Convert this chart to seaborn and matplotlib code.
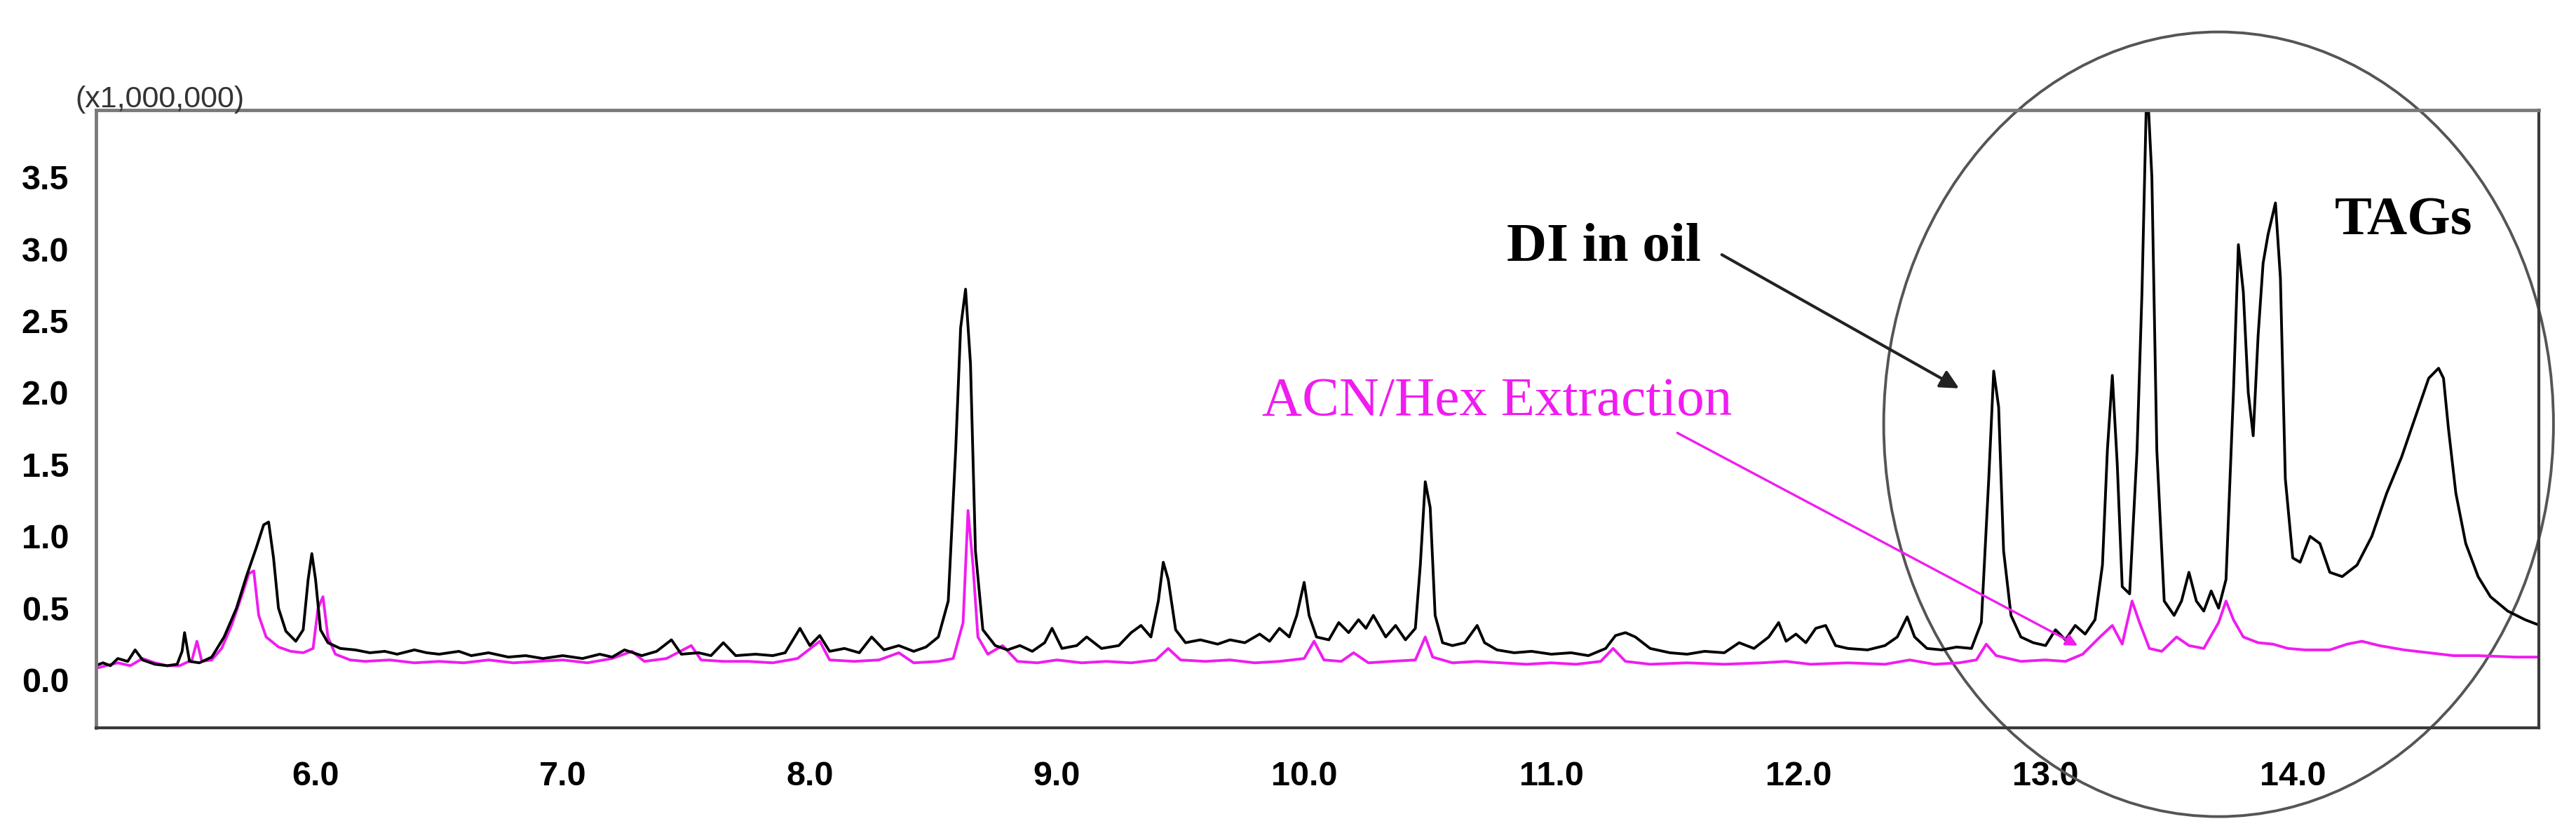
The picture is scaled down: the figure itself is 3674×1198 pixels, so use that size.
import matplotlib
matplotlib.use("Agg")
import matplotlib.pyplot as plt
from matplotlib.patches import Ellipse
from matplotlib.ticker import MultipleLocator
import pandas as pd
import seaborn as sns

# retention time (min) / intensity (x1,000,000)
di_rt = [5.11, 5.14, 5.17, 5.20, 5.24, 5.27, 5.30, 5.35, 5.40, 5.44,
         5.46, 5.47, 5.49, 5.53, 5.58, 5.63, 5.68, 5.72, 5.76, 5.79,
         5.81, 5.83, 5.85, 5.88, 5.92, 5.95, 5.97, 5.985, 6.00, 6.02,
         6.05, 6.10, 6.16, 6.22, 6.28, 6.33, 6.40, 6.45, 6.50, 6.58,
         6.63, 6.70, 6.78, 6.85, 6.92, 7.00, 7.08, 7.15, 7.20, 7.25,
         7.32, 7.38, 7.44, 7.48, 7.55, 7.60, 7.65, 7.70, 7.78, 7.85,
         7.90, 7.96, 8.00, 8.04, 8.08, 8.14, 8.20, 8.25, 8.30, 8.36,
         8.42, 8.47, 8.52, 8.56, 8.59, 8.61, 8.63, 8.65, 8.67, 8.70,
         8.75, 8.80, 8.85, 8.90, 8.95, 8.98, 9.02, 9.08, 9.12, 9.18,
         9.25, 9.30, 9.34, 9.38, 9.41, 9.43, 9.45, 9.48, 9.52, 9.58,
         9.65, 9.70, 9.76, 9.82, 9.86, 9.90, 9.94, 9.97, 10.00, 10.02,
         10.05, 10.10, 10.14, 10.18, 10.22, 10.25, 10.28, 10.33, 10.37, 10.41,
         10.45, 10.47, 10.49, 10.51, 10.53, 10.56, 10.60, 10.65, 10.70, 10.73,
         10.78, 10.85, 10.92, 11.00, 11.08, 11.15, 11.22, 11.26, 11.30, 11.34,
         11.40, 11.48, 11.55, 11.62, 11.70, 11.76, 11.82, 11.88, 11.92, 11.95,
         11.99, 12.03, 12.07, 12.11, 12.15, 12.20, 12.28, 12.35, 12.40, 12.44,
         12.47, 12.52, 12.58, 12.64, 12.70, 12.74, 12.77, 12.79, 12.81, 12.83,
         12.86, 12.90, 12.95, 13.00, 13.04, 13.08, 13.12, 13.16, 13.20, 13.23,
         13.25, 13.27, 13.29, 13.31, 13.34, 13.37, 13.39, 13.41, 13.43, 13.45,
         13.48, 13.52, 13.55, 13.58, 13.61, 13.64, 13.67, 13.70, 13.73, 13.76,
         13.78, 13.80, 13.82, 13.84, 13.86, 13.88, 13.90, 13.93, 13.95, 13.97,
         14.00, 14.03, 14.07, 14.11, 14.15, 14.20, 14.26, 14.32, 14.38, 14.44,
         14.50, 14.55, 14.59, 14.61, 14.63, 14.66, 14.70, 14.75, 14.80, 14.87,
         14.94, 15.00]
di_int = [0.10, 0.12, 0.10, 0.15, 0.13, 0.21, 0.14, 0.11, 0.10, 0.11,
          0.20, 0.33, 0.13, 0.12, 0.16, 0.30, 0.50, 0.72, 0.92, 1.08,
          1.10, 0.85, 0.50, 0.34, 0.27, 0.35, 0.70, 0.88, 0.70, 0.35,
          0.26, 0.22, 0.21, 0.19, 0.20, 0.18, 0.21, 0.19, 0.18, 0.20,
          0.17, 0.19, 0.16, 0.17, 0.15, 0.17, 0.15, 0.18, 0.16, 0.21,
          0.17, 0.20, 0.28, 0.18, 0.19, 0.17, 0.26, 0.17, 0.18, 0.17,
          0.19, 0.36, 0.24, 0.31, 0.20, 0.22, 0.19, 0.30, 0.21, 0.24,
          0.20, 0.23, 0.30, 0.55, 1.60, 2.45, 2.72, 2.20, 0.90, 0.35,
          0.24, 0.21, 0.24, 0.20, 0.26, 0.36, 0.22, 0.24, 0.30, 0.22,
          0.24, 0.33, 0.38, 0.30, 0.55, 0.82, 0.70, 0.35, 0.26, 0.28,
          0.25, 0.28, 0.26, 0.32, 0.27, 0.36, 0.30, 0.45, 0.68, 0.45,
          0.30, 0.28, 0.40, 0.33, 0.42, 0.36, 0.45, 0.30, 0.38, 0.28,
          0.36, 0.80, 1.38, 1.20, 0.45, 0.26, 0.24, 0.26, 0.38, 0.26,
          0.21, 0.19, 0.20, 0.18, 0.19, 0.17, 0.22, 0.31, 0.33, 0.30,
          0.22, 0.19, 0.18, 0.20, 0.19, 0.26, 0.22, 0.30, 0.40, 0.27,
          0.32, 0.26, 0.36, 0.38, 0.24, 0.22, 0.21, 0.24, 0.30, 0.44,
          0.30, 0.22, 0.21, 0.23, 0.22, 0.40, 1.40, 2.15, 1.90, 0.90,
          0.45, 0.30, 0.26, 0.24, 0.35, 0.28, 0.38, 0.32, 0.42, 0.80,
          1.60, 2.12, 1.50, 0.65, 0.60, 1.60, 2.70, 4.20, 3.50, 1.60,
          0.55, 0.45, 0.55, 0.75, 0.55, 0.48, 0.62, 0.50, 0.70, 2.00,
          3.03, 2.70, 2.00, 1.70, 2.40, 2.90, 3.10, 3.32, 2.80, 1.40,
          0.85, 0.82, 1.00, 0.95, 0.75, 0.72, 0.80, 1.00, 1.30, 1.55,
          1.85, 2.10, 2.17, 2.10, 1.75, 1.30, 0.95, 0.72, 0.58, 0.48,
          0.42, 0.38]

acn_rt = [5.11, 5.15, 5.20, 5.25, 5.30, 5.35, 5.40, 5.45, 5.50, 5.52,
          5.54, 5.58, 5.62, 5.66, 5.70, 5.73, 5.75, 5.77, 5.80, 5.85,
          5.90, 5.95, 5.99, 6.01, 6.03, 6.05, 6.08, 6.14, 6.20, 6.30,
          6.40, 6.50, 6.60, 6.70, 6.80, 6.90, 7.00, 7.10, 7.20, 7.28,
          7.33, 7.42, 7.52, 7.56, 7.65, 7.75, 7.85, 7.95, 8.04, 8.08,
          8.18, 8.28, 8.36, 8.42, 8.52, 8.58, 8.62, 8.64, 8.66, 8.68,
          8.72, 8.78, 8.84, 8.92, 9.00, 9.10, 9.20, 9.30, 9.40, 9.45,
          9.50, 9.60, 9.70, 9.80, 9.90, 10.00, 10.04, 10.08, 10.15, 10.20,
          10.26, 10.35, 10.45, 10.49, 10.52, 10.60, 10.70, 10.80, 10.90, 11.00,
          11.10, 11.20, 11.25, 11.30, 11.40, 11.55, 11.70, 11.85, 11.95, 12.05,
          12.20, 12.35, 12.45, 12.55, 12.65, 12.72, 12.76, 12.80, 12.90, 13.00,
          13.08, 13.15, 13.22, 13.27, 13.31, 13.35, 13.38, 13.42, 13.47, 13.53,
          13.58, 13.64, 13.70, 13.73, 13.76, 13.80, 13.86, 13.92, 13.98, 14.05,
          14.15, 14.22, 14.28, 14.35, 14.45, 14.55, 14.65, 14.75, 14.90, 15.00]
acn_int = [0.08, 0.10, 0.12, 0.10, 0.15, 0.12, 0.10, 0.10, 0.14, 0.27,
           0.13, 0.14, 0.22, 0.38, 0.58, 0.74, 0.76, 0.45, 0.30, 0.23,
           0.20, 0.19, 0.22, 0.50, 0.58, 0.30, 0.18, 0.14, 0.13, 0.14,
           0.12, 0.13, 0.12, 0.14, 0.12, 0.13, 0.14, 0.12, 0.15, 0.20,
           0.13, 0.15, 0.24, 0.14, 0.13, 0.13, 0.12, 0.15, 0.27, 0.14,
           0.13, 0.14, 0.19, 0.12, 0.13, 0.15, 0.40, 1.18, 0.80, 0.30,
           0.18, 0.24, 0.13, 0.12, 0.14, 0.12, 0.13, 0.12, 0.14, 0.22,
           0.14, 0.13, 0.14, 0.12, 0.13, 0.15, 0.27, 0.14, 0.13, 0.19,
           0.12, 0.13, 0.14, 0.30, 0.16, 0.12, 0.13, 0.12, 0.11, 0.12,
           0.11, 0.13, 0.22, 0.13, 0.11, 0.12, 0.11, 0.12, 0.13, 0.11,
           0.12, 0.11, 0.14, 0.11, 0.12, 0.14, 0.25, 0.17, 0.13, 0.14,
           0.13, 0.18, 0.30, 0.38, 0.25, 0.55, 0.40, 0.22, 0.20, 0.30,
           0.24, 0.22, 0.40, 0.55, 0.42, 0.30, 0.26, 0.25, 0.22, 0.21,
           0.21, 0.25, 0.27, 0.24, 0.21, 0.19, 0.17, 0.17, 0.16, 0.16]

x_major = [6.0, 7.0, 8.0, 9.0, 10.0, 11.0, 12.0, 13.0, 14.0]
y_major = [0.0, 0.5, 1.0, 1.5, 2.0, 2.5, 3.0, 3.5]

MAGENTA = "#f01cf0"
GRID_GREY = "#7a7a7a"
DARK = "#3a3a3a"

sns.set_style("white")
plt.rcParams["font.family"] = ["Liberation Sans", "DejaVu Sans"]
narrow = ["Liberation Sans Narrow", "Liberation Sans", "DejaVu Sans"]

di = pd.DataFrame({"rt": di_rt, "int": di_int})
acn = pd.DataFrame({"rt": acn_rt, "int": acn_int})

fig = plt.figure(figsize=(36.74, 11.98), dpi=100)
ax = fig.add_axes([0.0373, 0.1336, 0.9483, 0.7353])

sns.lineplot(data=acn, x="rt", y="int", color=MAGENTA, lw=2.8,
             estimator=None, sort=False, ax=ax)
sns.lineplot(data=di, x="rt", y="int", color="black", lw=2.8,
             estimator=None, sort=False, ax=ax)

ax.set_xlim(5.112, 14.996)
ax.set_ylim(-0.332, 3.966)
ax.set_xlabel("")
ax.set_ylabel("")

ax.set_xticks(x_major)
ax.set_xticklabels([f"{v:.1f}" for v in x_major])
ax.set_yticks(y_major)
ax.set_yticklabels([f"{v:.1f}" for v in y_major])
ax.xaxis.set_minor_locator(MultipleLocator(0.2))
ax.yaxis.set_minor_locator(MultipleLocator(0.1))
ax.tick_params(axis="both", which="major", direction="out", length=24,
               width=2.8, color=DARK, labelcolor="black")
ax.tick_params(axis="x", which="major", pad=10)
ax.tick_params(axis="y", which="major", pad=4)
ax.tick_params(axis="both", which="minor", direction="out", length=14,
               width=2.8, color=DARK)
for lab in ax.get_xticklabels() + ax.get_yticklabels():
    lab.set_family(narrow)
    lab.set_fontsize(35)
    lab.set_fontweight("bold")

for side in ["left", "top"]:
    ax.spines[side].set_color(GRID_GREY)
    ax.spines[side].set_linewidth(3.5)
for side in ["bottom", "right"]:
    ax.spines[side].set_color(DARK)
    ax.spines[side].set_linewidth(3.0)

fig.text(107 / 3674, 1 - 153 / 1198, "(x1,000,000)", fontsize=31,
         color="#333333", ha="left", va="baseline")

# annotations
serif = ["Liberation Serif", "DejaVu Serif"]
ax.text(10.82, 2.92, "DI in oil", fontsize=57, family=serif,
        fontweight="bold", color="black", ha="left", va="baseline")
ax.text(14.17, 3.10, "TAGs", fontsize=57, family=serif,
        fontweight="bold", color="black", ha="left", va="baseline")
ax.text(9.83, 1.84, "ACN/Hex Extraction", fontsize=57, family=serif,
        color=MAGENTA, ha="left", va="baseline")

ax.annotate("", xy=(12.65, 2.03), xytext=(11.69, 2.96),
            arrowprops=dict(arrowstyle="-|>", color="#222222", lw=3.0,
                            mutation_scale=40, shrinkA=0, shrinkB=0))
ax.annotate("", xy=(13.13, 0.24), xytext=(11.51, 1.72),
            arrowprops=dict(arrowstyle="-|>", color=MAGENTA, lw=2.4,
                            mutation_scale=25, shrinkA=0, shrinkB=0))

ax.add_patch(Ellipse((13.70, 1.78), 2.71, 5.46, fill=False,
                     edgecolor="#555555", lw=2.8, clip_on=False))

fig.savefig("out.png", dpi=100)
